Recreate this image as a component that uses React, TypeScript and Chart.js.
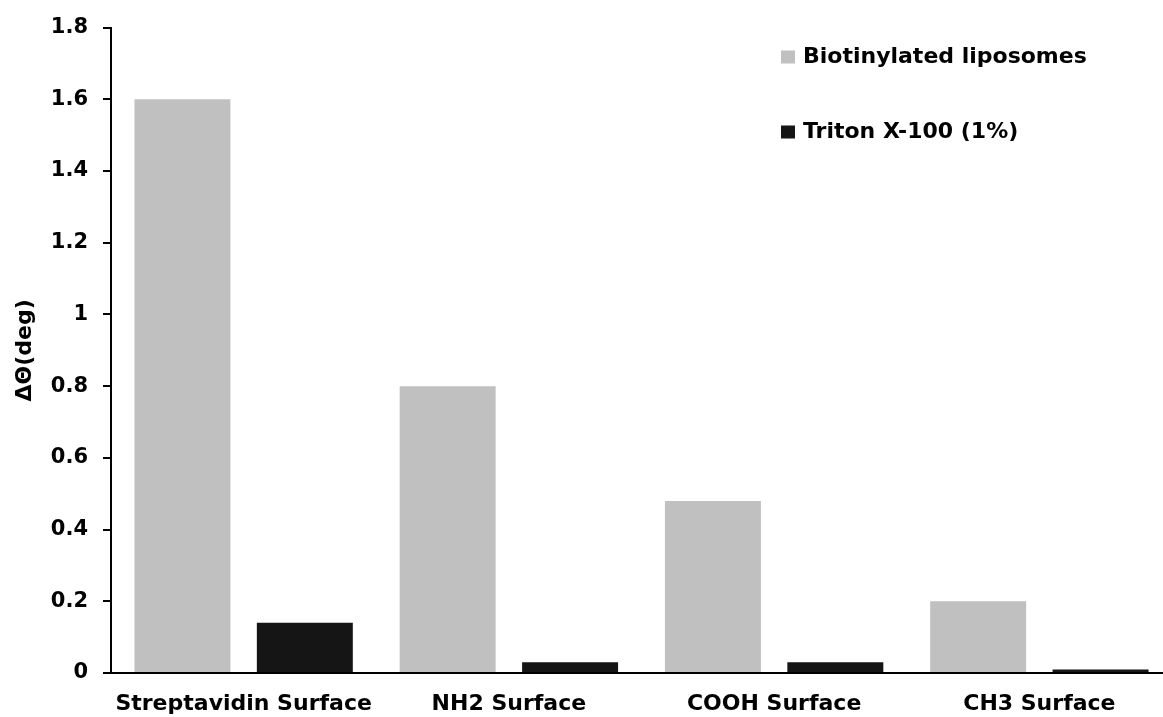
import React, { useEffect, useRef } from "react";
import { Chart, registerables } from "chart.js";

Chart.register(...registerables);

const categories = ["Streptavidin Surface", "NH2 Surface", "COOH Surface", "CH3 Surface"];
const seriesNames = ["Biotinylated liposomes", "Triton X-100 (1%)"];
const biotinylated = [1.6, 0.8, 0.48, 0.2];
const triton = [0.14, 0.03, 0.03, 0.01];
const yMin = 0;
const yMax = 1.8;
const yStep = 0.2;
const yTitle = "ΔΘ(deg)";

const FONT = '"DejaVu Sans", "Liberation Sans", sans-serif';

const legendPlugin = {
  id: "insideLegend",
  afterDraw(chart: any) {
    const ctx = chart.ctx;
    ctx.save();
    ctx.font = `bold 22px ${FONT}`;
    ctx.textBaseline = "middle";
    ctx.textAlign = "left";
    chart.data.datasets.forEach((ds: any, i: number) => {
      const y = 57 + i * 75;
      ctx.fillStyle = ds.backgroundColor;
      ctx.fillRect(781, y - 6.5, 14, 13);
      ctx.fillStyle = "#000";
      ctx.fillText(ds.label, 803, y);
    });
    ctx.restore();
  },
};

export default function App() {
  const ref = useRef<HTMLCanvasElement | null>(null);

  useEffect(() => {
    if (!ref.current) return;
    const chart = new Chart(ref.current, {
      type: "bar",
      data: {
        labels: categories,
        datasets: [
          {
            label: seriesNames[0],
            data: biotinylated,
            backgroundColor: "#c0c0c0",
            borderWidth: 0,
            categoryPercentage: 0.923,
            barPercentage: 0.784,
          },
          {
            label: seriesNames[1],
            data: triton,
            backgroundColor: "#151515",
            borderWidth: 0,
            categoryPercentage: 0.923,
            barPercentage: 0.784,
          },
        ],
      },
      options: {
        animation: false,
        responsive: false,
        devicePixelRatio: 1,
        layout: { padding: { top: 10, right: 8, bottom: 0, left: 0 } },
        plugins: {
          legend: { display: false },
          tooltip: { enabled: false },
        },
        scales: {
          x: {
            grid: { display: false, drawTicks: false },
            border: { display: true, color: "#000", width: 2 },
            ticks: {
              color: "#000",
              font: { family: FONT, size: 22, weight: "bold" },
              padding: 18,
              maxRotation: 0,
              autoSkip: false,
            },
            afterFit(scale: any) {
              scale.height = 44;
            },
          },
          y: {
            min: yMin,
            max: yMax,
            grid: {
              display: true,
              drawOnChartArea: false,
              drawTicks: true,
              tickLength: 8,
              color: "#000",
              lineWidth: 2,
            },
            border: { display: true, color: "#000", width: 2 },
            ticks: {
              stepSize: yStep,
              color: "#000",
              font: { family: FONT, size: 21, weight: "bold" },
              padding: 15,
              callback: (v: any) => String(Number(Number(v).toFixed(1))),
            },
            title: {
              display: true,
              text: yTitle,
              color: "#000",
              font: { family: FONT, size: 22, weight: "bold" },
              padding: { top: 12, bottom: 0 },
            },
            afterFit(scale: any) {
              scale.width = 111;
            },
          },
        },
      },
      plugins: [legendPlugin],
    });
    return () => chart.destroy();
  }, []);

  return (
    <div
      style={{
        position: "absolute",
        left: 0,
        top: 0,
        width: 1163,
        height: 717,
        overflow: "hidden",
        background: "#fff",
      }}
    >
      <canvas ref={ref} width={1180} height={717} style={{ display: "block" }} />
    </div>
  );
}
